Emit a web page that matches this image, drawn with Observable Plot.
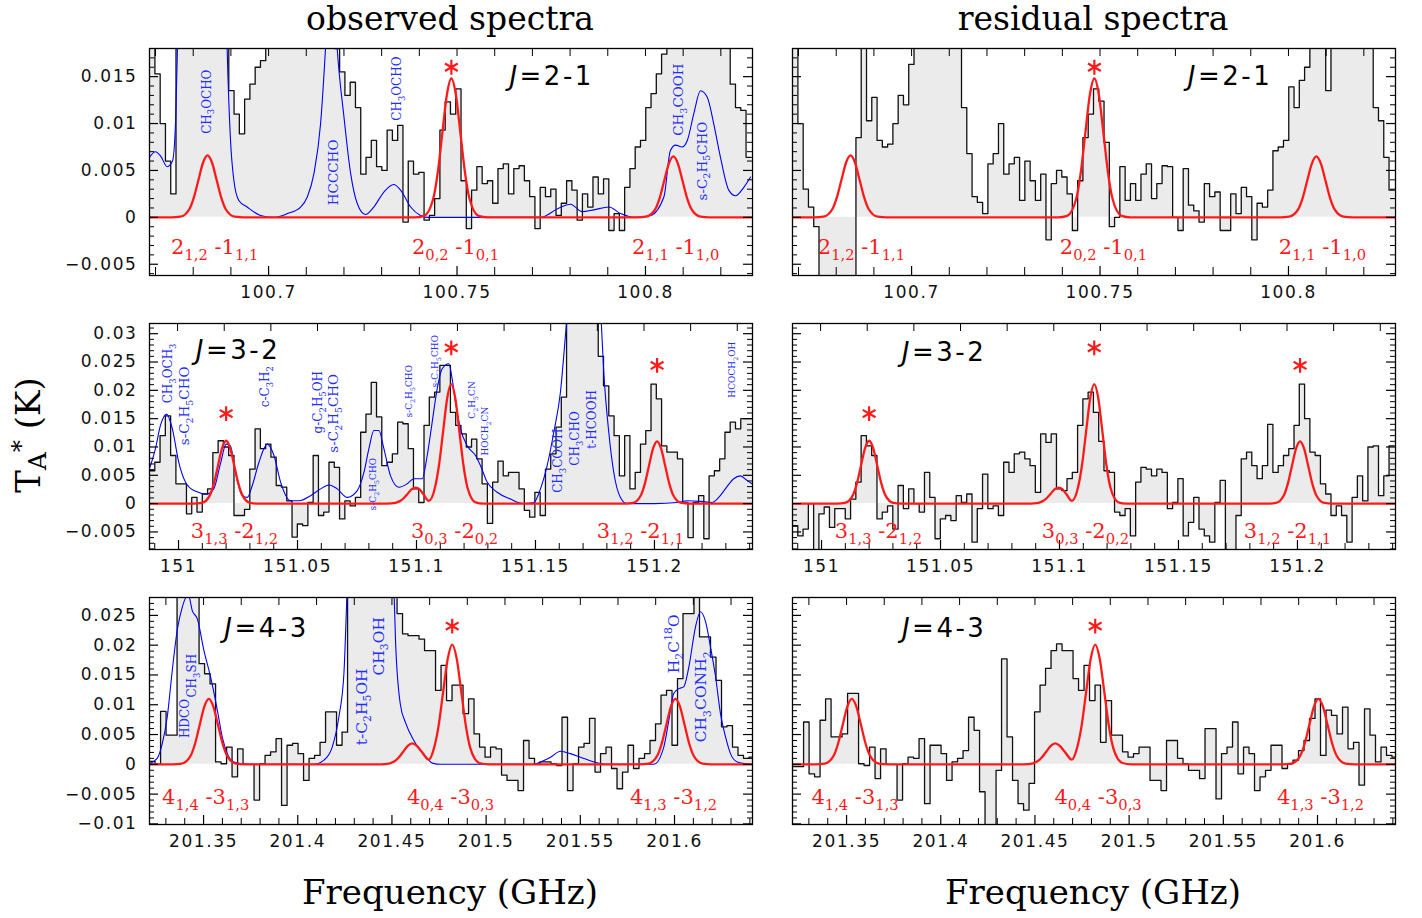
<!DOCTYPE html>
<html><head><meta charset="utf-8">
<script src="https://cdn.jsdelivr.net/npm/d3@7"></script>
<script src="https://cdn.jsdelivr.net/npm/@observablehq/plot@0.6"></script>
<style>
body{margin:0;background:#fff;}
#root{position:relative;width:1422px;height:918px;overflow:hidden;background:#fff;}
.panel{position:absolute;}
.lbl{position:absolute;font-family:"DejaVu Serif";color:#000;white-space:nowrap;line-height:1;}
</style></head><body><div id="root"></div>
<script>
// ---------------- channel grids (GHz) ----------------
const f0_21 = 100.66913, df_21 = 0.0014005;
const f0_32 = 150.98891, df_32 = 0.0022185;
const f0_43 = 201.3228,  df_43 = 0.0029193;

// ---------------- spectra (mK) ----------------
const obs21 = [25,15.3,10,6,2.5,25,25,25,25,25,25,25,25,25,25,13.5,11,8.9,12.6,14.2,16,16.7,25,25,25,25,25,25,25,25,25,25,25,25,25,18,15.5,13,14.4,11.7,4.6,6.4,8.2,5.4,5,9.3,8.2,9.8,-0.5,6,4.6,4.8,-0.3,0.2,2,9.3,12.3,11,13.7,3.9,-1.2,2.9,5.4,3.6,3.9,1.5,5.2,5.7,2.5,5.2,5.5,3.9,2.2,-1.2,3.2,2.2,3,0.2,1.5,3.9,2.9,-0.3,2.5,1.1,4.3,2.5,4.1,-1.4,0.4,-1.4,3.2,5.2,7.5,8.2,11.7,13.2,15.3,17.4,25,25,25,25,25,25,25,25,25,25,25,25,14.2,11.7,11.4,6.4];
const res21 = [20,10,3,1.1,-1,-7,-7,-7,-7,-7,-7,-7,8.5,25,10.3,12.8,8.2,7.5,7.8,10,13,12,16.3,25,25,25,25,25,25,25,25,25,11.7,6.8,2.2,1.6,0.4,5.7,6.8,10,4.6,5.7,6.4,1.8,6,3.9,1.8,4.6,-2.4,3.6,5,4.3,2.5,-1.4,3.9,8.5,11,13.7,12.4,8,-1,0,5.4,1.8,3.6,1.8,4.6,5.7,2,3.6,5.5,5.4,0,-1.4,5.2,1.3,0.7,-0.5,3.6,2.2,2.7,-1.4,-1.4,2.5,0.4,3.2,2.2,-2.4,1.5,1.1,2.9,7.1,7.5,8.2,13.9,11.7,14.6,16,25,25,25,13.5,25,25,25,25,25,25,25,25,11.7,10.3,6.4,2.9];
const obs32 = [5.8,7.3,12,15.5,8.5,3.5,3.5,-1.8,1.1,-1.5,1.7,2.6,9,11.1,10,8.5,-2.1,-2.1,-1,6.1,13.2,9.7,10.5,8.2,3.2,2.9,0.5,-5.9,-3.6,-3.9,0.2,8.5,-2.1,-1.5,7.3,6.4,-2.7,0.5,-0.4,1.1,12.6,15.8,21.4,15.3,6.7,7.3,8.8,14.4,14.1,9.7,2.6,0.2,13.8,18.8,19.7,24.4,24.4,16.1,13.8,12.3,10,11.4,7.9,3.5,-3.5,3.8,7.5,4.9,5.5,5.5,2.6,-1.2,-2.4,2,-2.1,6.1,8.8,13.5,18.8,40,40,40,40,40,40,26,20.8,15.5,12,4.9,12,2.6,5.5,10.5,12.9,21.1,18.5,10.2,9.1,9.1,7.9,0.2,-6,0.2,1.4,-6.2,4.9,5.8,7.9,12.6,14.4,13.2,15,15];
const res32 = [-3.9,-5.7,-4.5,0,-9,-1.8,-0.6,-4.2,-0.9,-0.9,-2.7,0.8,3.8,12,10.2,8.5,-2.7,-1.5,-0.4,-4.5,3.2,-0.9,2.6,0,-1.5,5.5,1.1,-6.2,-2.7,-2.1,-3,1.4,0.2,1.7,-6.8,-0.9,5.2,-0.9,-0.4,-2.1,7.3,5.5,8.8,9.1,7.9,6.7,2,12.3,10.8,12.3,2.6,2.3,4.4,5.5,13.8,18.5,19.7,16.1,11,5.8,5.5,-1.5,-2.1,-0.9,-5.7,3.8,6.4,6.1,4.9,6.1,5.5,-0.9,0.2,4.4,-5.7,-3.3,1.1,-4.5,-5.7,-6.8,0.2,4.1,-9,-9,-2.1,7.9,9.1,6.7,4.4,6.7,14,5.5,6.7,8.5,9.7,13.8,21.1,15,9.1,8.5,3.5,1.7,-2.1,-0.4,-2.1,-6.8,1.1,4.9,0.5,10,10.2,1.4,4.9,10.2];
const obs43 = [0.5,0,8.9,4.9,4.9,40,40,40,40,16.9,15.2,13.5,0.4,0.1,2.9,-2.1,2.6,0,0,-6,0.1,1.5,2.1,4.3,-6.9,3.2,3.5,1.8,-2.7,1,1.5,3.7,8.8,8.8,3.2,5.4,40,40,40,40,40,40,40,40,40,25.3,21.9,21.6,21.6,21,19.1,19.1,12.4,16.6,10.7,13.3,13.3,8.5,11,5.1,2.9,1.2,2.9,2.6,-1.8,-2.7,-2.7,-4.4,4,1,0.1,0.4,0.4,0.1,-0.2,7.9,-4.4,0.1,2.9,3.5,7.7,-1.3,1.8,2.9,-0.7,-4.1,-1.3,3.2,-0.7,1,1.8,4,6.8,11.6,12.4,3.2,14.4,25.3,25.3,40,21.4,21.4,18,14.1,6.3,6.5,2.9,1.5,1,1.2];
const res43 = [-0.4,-0.4,7.1,-1.6,-2.1,7.4,11,4.6,4.6,5.1,11.9,11.9,0.1,-0.2,2.9,-2.4,2.6,0,0,-6,0.1,1.2,1,4.3,-6.6,3.2,3.2,1.8,-2.7,0.4,1,2.3,7.9,5.7,-4.6,-12,-12,-1,17.7,4.6,-2.7,-6.6,-7.7,-3.2,8.8,13.3,16.1,19.1,20.2,19.1,19.1,14.4,12.4,16.6,10.7,13.3,3.7,10.7,4.9,4.9,2.1,1.2,1.8,2.9,2.9,-2.7,-2.7,-4.4,4,4,1,0.1,-1,-1,-2.4,6,6,-5.8,1.8,2.9,7.1,-1.6,2.9,1.8,-4.4,-2.1,-1,3.2,3.2,-0.7,0.1,0.7,2.3,4,7.7,11,1.5,9.1,8.2,5.1,9.6,2.6,3.7,-3.5,9.3,4.9,0.4,2.9,1.5,1.2];

// ---------------- fitted model of the target molecule (red), [GHz, mK] ----------------
const red21 = [[100.6684,0],[100.6742,0],[100.6766,0.07],[100.6790,0.89],[100.6802,2.15],[100.6814,4.0],[100.6826,5.82],[100.6838,6.6],[100.6850,5.82],[100.6862,4.0],[100.6874,2.15],[100.6886,0.89],[100.6910,0.07],[100.6934,0],
[100.7389,0],[100.7413,0.16],[100.7437,2.0],[100.7449,4.81],[100.7461,8.98],[100.7473,13.05],[100.7485,14.8],[100.7497,13.05],[100.7509,8.98],[100.7521,4.81],[100.7533,2.0],[100.7557,0.16],[100.7581,0],
[100.7978,0],[100.8002,0.07],[100.8026,0.88],[100.8038,2.11],[100.8050,3.95],[100.8062,5.73],[100.8074,6.5],[100.8086,5.73],[100.8098,3.95],[100.8110,2.11],[100.8122,0.88],[100.8146,0.07],[100.8170,0],[100.8284,0]];
const red32 = [[150.9878,0],[151.0064,0],[151.0098,0.12],[151.0132,1.5],[151.0149,3.61],[151.0166,6.74],[151.0183,9.79],[151.0200,11.1],[151.0217,9.79],[151.0234,6.74],[151.0251,3.61],[151.0268,1.5],[151.0302,0.12],[151.0336,0],
[151.0860,0],[151.0894,0.03],[151.0928,0.4],[151.0945,0.9],[151.0962,1.7],[151.0979,2.5],[151.0996,2.8],[151.1013,2.5],[151.1030,1.6],[151.1052,0.5],[151.1078,2.9],[151.1095,6.9],[151.1112,12.8],[151.1129,18.6],[151.1146,21.1],[151.1163,18.6],[151.1180,12.8],[151.1197,6.86],[151.1214,2.85],[151.1248,0.23],[151.1282,0],
[151.1875,0],[151.1909,0.12],[151.1943,1.49],[151.1960,3.58],[151.1977,6.68],[151.1994,9.7],[151.2011,11.0],[151.2028,9.7],[151.2045,6.68],[151.2062,3.58],[151.2079,1.49],[151.2113,0.12],[151.2147,0],[151.2412,0]];
const red43 = [[201.3213,0],[201.3336,0],[201.3384,0.12],[201.3432,1.49],[201.3456,3.58],[201.3480,6.68],[201.3504,9.7],[201.3528,11.0],[201.3552,9.7],[201.3576,6.68],[201.3600,3.58],[201.3624,1.49],[201.3672,0.12],[201.3720,0],
[201.4416,0],[201.4464,0.04],[201.4512,0.47],[201.4536,1.14],[201.4560,2.12],[201.4584,3.09],[201.4608,3.5],[201.4632,3.09],[201.4656,2.2],[201.4696,0.8],[201.4724,2.8],[201.4748,6.53],[201.4772,12.2],[201.4796,17.7],[201.4820,20.1],[201.4844,17.7],[201.4868,12.2],[201.4892,6.53],[201.4916,2.71],[201.4964,0.22],[201.5012,0],
[201.5813,0],[201.5861,0.12],[201.5909,1.49],[201.5933,3.58],[201.5957,6.68],[201.5981,9.7],[201.6005,11.0],[201.6029,9.7],[201.6053,6.68],[201.6077,3.58],[201.6101,1.49],[201.6149,0.12],[201.6197,0],[201.6414,0]];

// ---------------- model of the other species (blue), [GHz, mK] ----------------
const blue21 = [[100.6684,6.4],[100.6700,7.0],[100.6714,6.5],[100.6731,5.4],[100.6745,6.0],[100.6753,10.0],[100.6758,17.8],[100.6762,25],[100.6784,45],[100.6824,55],[100.6864,45],[100.6886,25],[100.6890,18],[100.6899,8.2],[100.6908,3.9],[100.6921,1.8],[100.6943,1.1],[100.6979,0.2],[100.7014,0],[100.7050,0.4],[100.7085,1.1],[100.7103,2.2],[100.7120,4.6],[100.7138,10],[100.7151,18],[100.7166,30],[100.7182,18],[100.7200,10.7],[100.7218,4.6],[100.7235,1.5],[100.7257,0.3],[100.7279,1.1],[100.7306,2.7],[100.7332,3.5],[100.7352,2.8],[100.7377,1.1],[100.7403,0.2],[100.7421,0],[100.7500,0],[100.7600,0],[100.7722,0],[100.7766,0.9],[100.7801,1.4],[100.7832,0.6],[100.7863,0.8],[100.7903,1.1],[100.7934,0.4],[100.7969,0],[100.8013,0.2],[100.8049,2.2],[100.8066,7.1],[100.8080,7.7],[100.8097,7.5],[100.8111,8.2],[100.8128,11],[100.8146,13.5],[100.8164,12.8],[100.8181,10],[100.8199,6.4],[100.8221,2.9],[100.8239,2.3],[100.8261,3.2],[100.8279,4.3]];
const blue32 = [[150.9875,5.8],[150.9903,9.7],[150.9924,13.8],[150.9950,15.8],[150.9974,13.2],[151.0001,7.3],[151.0029,3.8],[151.0064,2.3],[151.0120,1.7],[151.0148,2.6],[151.0176,7.0],[151.0200,10.5],[151.0218,10.2],[151.0239,5.5],[151.0268,1.4],[151.0289,1.1],[151.0310,3.2],[151.0338,7.3],[151.0373,10.5],[151.0401,8.5],[151.0429,3.8],[151.0471,0.5],[151.0506,0.5],[151.0555,1.4],[151.0597,2.6],[151.0632,3.3],[151.0667,2.6],[151.0709,1.1],[151.0751,2.3],[151.0779,5.5],[151.0800,9.7],[151.0821,12.9],[151.0842,12.9],[151.0863,9.7],[151.0891,4.9],[151.0926,2.9],[151.0961,3.5],[151.0989,4.4],[151.1024,4.4],[151.1045,8.5],[151.1066,14.4],[151.1087,20.3],[151.1108,23.8],[151.1136,24.7],[151.1150,22],[151.1164,17.9],[151.1185,13.2],[151.1213,10.2],[151.1248,8.5],[151.1269,6.7],[151.1297,3.8],[151.1339,2.0],[151.1395,0.8],[151.1451,0],[151.1493,0.2],[151.1521,2.6],[151.1549,6.7],[151.1577,12.6],[151.1605,19.7],[151.1626,29.7],[151.1703,70],[151.1773,35],[151.1787,23.2],[151.1808,12.6],[151.1829,5.5],[151.1857,1.1],[151.1885,0],[151.2000,0],[151.2095,0.2],[151.2137,0.5],[151.2193,0.4],[151.2242,0.2],[151.2270,1.1],[151.2298,2.6],[151.2333,4.4],[151.2361,4.9],[151.2389,4.1],[151.2410,3.5]];
const blue43 = [[201.3210,0.1],[201.3254,1.0],[201.3281,3.5],[201.3307,7.9],[201.3334,15.8],[201.3360,22.5],[201.3387,26.4],[201.3419,28.5],[201.3440,25.8],[201.3467,24.4],[201.3502,19.1],[201.3537,14.7],[201.3573,9.1],[201.3599,4.6],[201.3626,1.8],[201.3661,0.4],[201.3732,0],[201.4085,0],[201.4139,0.7],[201.4183,2.9],[201.4218,7.9],[201.4245,15.2],[201.4263,30],[201.4386,80],[201.4510,30],[201.4519,20.8],[201.4545,10],[201.4572,7.0],[201.4616,4.0],[201.4652,2.3],[201.4687,1.0],[201.4714,0.2],[201.4760,0],[201.5253,0],[201.5289,0.4],[201.5342,1.2],[201.5395,2.2],[201.5448,1.8],[201.5501,1.2],[201.5572,0.4],[201.5643,0],[201.5890,0],[201.5943,2.9],[201.5970,7.4],[201.5996,11.9],[201.6023,12.7],[201.6049,13.0],[201.6076,16.3],[201.6111,23],[201.6138,25.6],[201.6165,23.9],[201.6191,19.7],[201.6218,14.7],[201.6244,8.5],[201.6271,4.6],[201.6297,1.8],[201.6333,0.4],[201.6403,0]];

// ---------------- axes ----------------
const xDom21 = [100.6684, 100.8284], yDom21 = [-0.0062, 0.0180];
const xDom32 = [150.9878, 151.2412], yDom32 = [-0.0081, 0.0318];
const xDom43 = [201.3213, 201.6414], yDom43 = [-0.0101, 0.0280];
const xTicks21 = [100.7, 100.75, 100.8];
const xTicks32 = [151, 151.05, 151.1, 151.15, 151.2];
const xTicks43 = [201.35, 201.4, 201.45, 201.5, 201.55, 201.6];
const yTicks21 = [-0.005, 0, 0.005, 0.01, 0.015];
const yTicks32 = [-0.005, 0, 0.005, 0.01, 0.015, 0.02, 0.025, 0.03];
const yTicks43 = [-0.01, -0.005, 0, 0.005, 0.01, 0.015, 0.02, 0.025];
// top (secondary) axis tick spacing and anchor, GHz
const topStep = [0.01, 0.0196, 0.02];
const topAnchor = [100.7, 150.9996, 201.35];

// ---------------- annotations ----------------
const trans21 = ["2_{1,2} -1_{1,1}", "2_{0,2} -1_{0,1}", "2_{1,1} -1_{1,0}"];
const trans32 = ["3_{1,3} -2_{1,2}", "3_{0,3} -2_{0,2}", "3_{1,2} -2_{1,1}"];
const trans43 = ["4_{1,4} -3_{1,3}", "4_{0,4} -3_{0,3}", "4_{1,3} -3_{1,2}"];
const labF21L = [100.6857, 100.7496, 100.8080], labF21R = [100.6867, 100.7509, 100.8090];
const labF32L = [151.0235, 151.1160, 151.1941], labF32R = [151.0239, 151.1109, 151.1958];
const labF43L = [201.3511, 201.4811, 201.5995], labF43R = [201.3545, 201.4835, 201.6016];
const labT = [-0.0032, -0.0049, -0.0055];
const stars21 = [[100.7485, 0.0160]];
const stars32 = [[151.0200, 0.0159], [151.1146, 0.0275], [151.2011, 0.0244]];
const stars43 = [[201.4820, 0.0232]];
const jText = ["~{J}=2-1", "~{J}=3-2", "~{J}=4-3"];
const jPosL = [[100.7751, 0.0150], [151.0250, 0.0270], [201.3834, 0.0228]];
const jPosR = [[100.7845, 0.0150], [151.0515, 0.0267], [201.4018, 0.0228]];
const blueLab21 = [["CH_{3}OCHO",100.6836,0.0089,"M"],["HCCCHO",100.7172,0.0013,"L"],["CH_{3}OCHO",100.7342,0.0103,"M"],["CH_{3}COOH",100.8088,0.0087,"L"],["s-C_{2}H_{5}CHO",100.8151,0.0018,"L"]];
const blueLab32 = [["CH_{3}OCH_{3}",150.9958,0.0177,"M"],["s-C_{2}H_{5}CHO",151.0025,0.0103,"L"],["c-C_{3}H_{2}",151.0366,0.0170,"M"],["g-C_{2}H_{5}OH",151.0588,0.0124,"M"],["s-C_{2}H_{5}CHO",151.0651,0.0090,"L"],["s-C_{2}H_{5}CHO",151.0819,-0.0012,"S"],["s-C_{2}H_{5}CHO",151.0971,0.0152,"S"],["s-C_{2}H_{5}CHO",151.1080,0.0205,"S"],["C_{2}H_{5}CN",151.1235,0.0150,"S"],["HOCH_{2}CN",151.1290,0.0085,"S"],["CH_{3}COOH",151.1597,0.0019,"M"],["CH_{3}CHO",151.1668,0.0067,"M"],["t-HCOOH",151.1740,0.0097,"M"],["HCOCH_{2}OH",151.2328,0.0187,"S"]];
const blueLab43 = [["HDCO",201.3404,0.0044,"M"],["CH_{3}SH",201.3442,0.0112,"M"],["t-C_{2}H_{5}OH",201.4339,0.0032,"XL"],["CH_{3}OH",201.4429,0.0149,"XL"],["H_{2}C^{18}O",201.5995,0.0153,"XL"],["CH_{3}CONH_{2}",201.6143,0.0037,"XL"]];

// ---------------- drawing ----------------
const RED = "#ff1a1a", BLUE = "#0000ff", GRAY = "#ebebeb";
const blueSize = {XL: 15.5, L: 13.5, M: 12, S: 9};
const fmtNum = d => d === 0 ? "0" : (d < 0 ? "\u2212" : "") + String(+Math.abs(d).toFixed(4));
const minor = (dom, step) => d3.range(Math.ceil(dom[0] / step - 1e-9), Math.floor(dom[1] / step + 1e-9) + 1).map(k => +(k * step).toFixed(6));
const anchored = (dom, anchor, step) => d3.range(Math.ceil((dom[0] - anchor) / step), Math.floor((dom[1] - anchor) / step) + 1).map(k => anchor + k * step);

function makePanel(o) {
  const ML = o.yLabels ? 90 : 12, MR = 12, MT = 12, MB = 42;
  const W = o.fw + ML + MR, H = o.fh + MT + MB;
  const spec = o.vals.map((v, i) => ({f: o.f0 + i * o.df, t: v / 1000}));
  spec.unshift({f: o.f0 - o.df / 2, t: o.vals[0] / 1000});
  spec.push({f: o.f0 + (o.vals.length - 0.5) * o.df, t: o.vals[o.vals.length - 1] / 1000});
  const pts = arr => arr.map(([f, v]) => ({f, t: v / 1000}));
  const yMin = minor(o.yDom, 0.001).filter(v => !o.yTicks.some(t => Math.abs(t - v) < 1e-7));
  const xMin = minor(o.xDom, 0.01).filter(v => !o.xTicks.some(t => Math.abs(t - v) < 1e-7));
  const topT = anchored(o.xDom, o.topAnchor, o.topStep);
  const marks = [
    Plot.areaY(spec, {x: "f", y: "t", curve: "step", fill: GRAY, clip: true}),
    Plot.lineY(spec, {x: "f", y: "t", curve: "step", stroke: "#111", strokeWidth: 1.3, clip: true})
  ];
  if (o.blue) marks.push(Plot.line(pts(o.blue), {x: "f", y: "t", curve: "monotone-x", stroke: BLUE, strokeWidth: 1.1, clip: true}));
  marks.push(Plot.line(pts(o.red), {x: "f", y: "t", curve: "monotone-x", stroke: RED, strokeWidth: 2.3, clip: true}));
  marks.push(
    Plot.tickY(o.yTicks, {y: d => d, insetRight: o.fw - 9, stroke: "#000", strokeWidth: 1.2}),
    Plot.tickY(o.yTicks, {y: d => d, insetLeft: o.fw - 9, stroke: "#000", strokeWidth: 1.2}),
    Plot.tickY(yMin, {y: d => d, insetRight: o.fw - 5, stroke: "#000", strokeWidth: 1}),
    Plot.tickY(yMin, {y: d => d, insetLeft: o.fw - 5, stroke: "#000", strokeWidth: 1}),
    Plot.tickX(o.xTicks, {x: d => d, insetTop: o.fh - 9, stroke: "#000", strokeWidth: 1.2}),
    Plot.tickX(xMin, {x: d => d, insetTop: o.fh - o.minorLen, stroke: "#000", strokeWidth: 1}),
    Plot.tickX(topT, {x: d => d, insetBottom: o.fh - 8, stroke: "#000", strokeWidth: 1}),
    Plot.frame({stroke: "#000", strokeWidth: 1.3})
  );
  if (o.yLabels) marks.push(Plot.text(o.yTicks, {y: d => d, text: fmtNum, frameAnchor: "left", dx: -12, textAnchor: "end", fontSize: 17, fontFamily: "DejaVu Sans", fill: "#111"}));
  marks.push(Plot.text(o.xTicks, {x: d => d, text: fmtNum, frameAnchor: "bottom", dy: 22, fontSize: 17, fontFamily: "DejaVu Sans", fill: "#111"}));
  marks.push(Plot.dot(o.stars, {x: d => d[0], y: d => d[1], symbol: "asterisk", r: 7, stroke: RED, strokeWidth: 2.2}));
  marks.push(Plot.text(o.labF.map((f, i) => ({f, s: o.trans[i]})), {x: "f", y: () => o.labT, text: "s", fontSize: 21, fontFamily: "DejaVu Serif", fill: RED}));
  marks.push(Plot.text([o.jPos], {x: d => d[0], y: d => d[1], text: () => o.jText, fontSize: 26, fontFamily: "DejaVu Sans", fill: "#000"}));
  if (o.blueLab) {
    for (const k of Object.keys(blueSize)) {
      const sub = o.blueLab.filter(d => d[3] === k);
      if (sub.length) marks.push(Plot.text(sub, {x: d => d[1], y: d => d[2], text: d => d[0], rotate: -90, textAnchor: "start", fontSize: blueSize[k], fontFamily: "DejaVu Serif", fill: "#1f2fff"}));
    }
  }
  const svg = Plot.plot({
    width: W, height: H, marginLeft: ML, marginRight: MR, marginTop: MT, marginBottom: MB,
    x: {domain: o.xDom, axis: null}, y: {domain: o.yDom, axis: null},
    style: {background: "transparent", overflow: "visible"},
    marks
  });
  svg.classList.add("panel");
  svg.style.left = (o.left - ML) + "px";
  svg.style.top = (o.top - MT) + "px";
  document.getElementById("root").appendChild(svg);
  return svg;
}

function rich(svg) {
  d3.select(svg).selectAll("text").each(function() {
    const t = this.textContent;
    if (/^[\u2212\d.]+$/.test(t)) { this.setAttribute("letter-spacing", "1.6px"); return; }
    if (!/[_^~]\{/.test(t)) return;
    const fs = parseFloat(getComputedStyle(this).fontSize);
    const parts = t.split(/(_\{[^}]*\}|\^\{[^}]*\}|~\{[^}]*\})/).filter(s => s.length);
    this.textContent = "";
    if (t.startsWith("~{")) this.setAttribute("letter-spacing", "2.5px");
    let shift = 0;
    for (const p of parts) {
      const ts = d3.select(this).append("tspan");
      let target = 0, txt = p;
      if (p.startsWith("_{")) { target = 0.28 * fs; txt = p.slice(2, -1); ts.attr("font-size", 0.7 * fs); }
      else if (p.startsWith("^{")) { target = -0.4 * fs; txt = p.slice(2, -1); ts.attr("font-size", 0.7 * fs); }
      else if (p.startsWith("~{")) { txt = p.slice(2, -1); ts.attr("font-style", "italic"); }
      if (target !== shift) ts.attr("dy", target - shift);
      shift = target;
      ts.text(txt);
    }
  });
}

const rows = [
  {xDom: xDom21, yDom: yDom21, f0: f0_21, df: df_21, obs: obs21, res: res21, red: red21, blue: blue21, xTicks: xTicks21, yTicks: yTicks21, trans: trans21, labL: labF21L, labR: labF21R, labT: labT[0], stars: stars21, jText: jText[0], jL: jPosL[0], jR: jPosR[0], blueLab: blueLab21, top: 48, fh: 227, minorLen: 8, topStep: topStep[0], topAnchor: topAnchor[0]},
  {xDom: xDom32, yDom: yDom32, f0: f0_32, df: df_32, obs: obs32, res: res32, red: red32, blue: blue32, xTicks: xTicks32, yTicks: yTicks32, trans: trans32, labL: labF32L, labR: labF32R, labT: labT[1], stars: stars32, jText: jText[1], jL: jPosL[1], jR: jPosR[1], blueLab: blueLab32, top: 323, fh: 226, minorLen: 6, topStep: topStep[1], topAnchor: topAnchor[1]},
  {xDom: xDom43, yDom: yDom43, f0: f0_43, df: df_43, obs: obs43, res: res43, red: red43, blue: blue43, xTicks: xTicks43, yTicks: yTicks43, trans: trans43, labL: labF43L, labR: labF43R, labT: labT[2], stars: stars43, jText: jText[2], jL: jPosL[2], jR: jPosR[2], blueLab: blueLab43, top: 597, fh: 227, minorLen: 6, topStep: topStep[2], topAnchor: topAnchor[2]}
];
for (const r of rows) {
  const common = {xDom: r.xDom, yDom: r.yDom, f0: r.f0, df: r.df, red: r.red, xTicks: r.xTicks, yTicks: r.yTicks, trans: r.trans, labT: r.labT, stars: r.stars, jText: r.jText, top: r.top, fh: r.fh, fw: 603, minorLen: r.minorLen, topStep: r.topStep, topAnchor: r.topAnchor};
  rich(makePanel({...common, vals: r.obs, blue: r.blue, blueLab: r.blueLab, labF: r.labL, jPos: r.jL, yLabels: true, left: 149}));
  rich(makePanel({...common, vals: r.res, blue: null, blueLab: null, labF: r.labR, jPos: r.jR, yLabels: false, left: 792}));
}

function addLabel(html, cx, cy, size, rotate) {
  const d = document.createElement("div");
  d.className = "lbl";
  d.innerHTML = html;
  d.style.fontSize = size + "px";
  d.style.left = cx + "px";
  d.style.top = cy + "px";
  d.style.transform = "translate(-50%,-50%)" + (rotate ? " rotate(-90deg)" : "");
  document.getElementById("root").appendChild(d);
}
addLabel("observed spectra", 450, 18, 33);
addLabel("residual spectra", 1093, 18, 33);
addLabel("Frequency (GHz)", 450, 892, 34);
addLabel("Frequency (GHz)", 1093, 892, 34);
addLabel('T<sub style="font-size:0.72em;vertical-align:-0.25em">A</sub><sup style="font-size:0.72em;vertical-align:0.45em">*</sup> (K)', 30, 435, 34, true);
</script></body></html>
